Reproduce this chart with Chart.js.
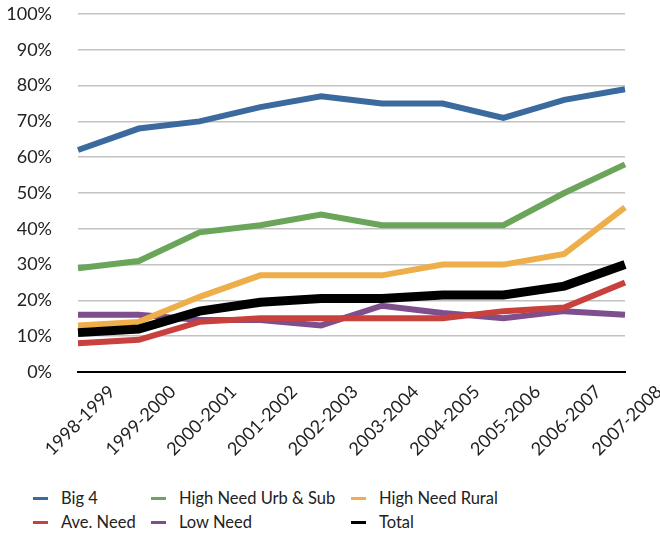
<!DOCTYPE html>
<html>
<head>
<meta charset="utf-8">
<script src="https://cdn.jsdelivr.net/npm/chart.js@4/dist/chart.umd.min.js"></script>
<style>
  body { margin: 0; background: #fff; }
  #wrap { position: relative; width: 660px; height: 536px; font-family: Lato, sans-serif; color: #222; }
  #legend { position: absolute; left: 0; top: 486px; width: 660px; }
  .item { position: absolute; height: 24px; line-height: 24px; font-size: 16.5px; white-space: nowrap; }
  .item .swatch { position: absolute; left: 0; top: 11px; width: 15px; height: 3px; }
  .item .name { position: absolute; left: 28px; top: 0; }
</style>
</head>
<body>
<div id="wrap">
  <canvas id="chart" width="660" height="480"></canvas>
  <div id="legend"></div>
</div>
<script>
const years = ['1998-1999', '1999-2000', '2000-2001', '2001-2002', '2002-2003',
               '2003-2004', '2004-2005', '2005-2006', '2006-2007', '2007-2008'];

const big4       = [62, 68, 70, 74, 77, 75, 75, 71, 76, 79];
const highUrbSub = [29, 31, 39, 41, 44, 41, 41, 41, 50, 58];
const highRural  = [13, 14, 21, 27, 27, 27, 30, 30, 33, 46];
const aveNeed    = [8, 9, 14, 15, 15, 15, 15, 17, 18, 25];
const lowNeed    = [16, 16, 14.5, 14.5, 13, 18.5, 16.5, 15, 17, 16];
const total      = [11, 12, 17, 19.5, 20.5, 20.5, 21.5, 21.5, 24, 30];

const yTicks = [0, 10, 20, 30, 40, 50, 60, 70, 80, 90, 100];

// legend order (row by row), draw order: lower "order" is painted last
const series = [
  { label: 'Big 4',               data: big4,       color: '#3b6a9e', width: 6, order: 4 },
  { label: 'High Need Urb & Sub', data: highUrbSub, color: '#6ba55a', width: 6, order: 3 },
  { label: 'High Need Rural',     data: highRural,  color: '#eeae4a', width: 6, order: 2 },
  { label: 'Ave. Need',           data: aveNeed,    color: '#c9413d', width: 6, order: 1 },
  { label: 'Low Need',            data: lowNeed,    color: '#7f4e8c', width: 6, order: 5 },
  { label: 'Total',               data: total,      color: '#000000', width: 9, order: 0 }
];

const ctx = document.getElementById('chart').getContext('2d');

new Chart(ctx, {
  type: 'line',
  data: {
    labels: years,
    datasets: series.map(s => ({
      label: s.label,
      data: s.data,
      borderColor: s.color,
      backgroundColor: s.color,
      borderWidth: s.width,
      order: s.order,
      pointRadius: 0,
      tension: 0,
      fill: false
    }))
  },
  options: {
    responsive: false,
    animation: false,
    layout: { padding: { top: 14, right: 35, left: 0, bottom: 0 } },
    plugins: {
      legend: { display: false },
      tooltip: { enabled: false }
    },
    scales: {
      x: {
        offset: false,
        grid: { display: false, drawTicks: false },
        border: { display: true, color: '#000', width: 2 },
        ticks: {
          font: { family: 'Lato', size: 18 },
          color: '#222',
          maxRotation: 45,
          minRotation: 45,
          autoSkip: false,
          labelOffset: 34,
          padding: 9
        },
        afterFit: scale => {
          scale.height = 108;
          scale.paddingLeft = 0;
          scale.paddingRight = 0;
        }
      },
      y: {
        min: 0,
        max: 100,
        afterBuildTicks: scale => { scale.ticks = yTicks.map(v => ({ value: v })); },
        grid: { color: '#c2c2c2', lineWidth: 1.5, drawTicks: false },
        border: { display: false },
        ticks: {
          font: { family: 'Lato', size: 18 },
          color: '#222',
          padding: 26,
          callback: v => v + '%'
        },
        afterFit: scale => {
          scale.width = 78;
          scale.paddingTop = 0;
          scale.paddingBottom = 0;
        }
      }
    }
  }
});

// legend: three columns, two rows
const legend = document.getElementById('legend');
const colX = [33, 151, 351];
series.forEach((s, i) => {
  const item = document.createElement('div');
  item.className = 'item';
  item.style.left = colX[i % 3] + 'px';
  item.style.top = (Math.floor(i / 3) * 24) + 'px';
  const sw = document.createElement('span');
  sw.className = 'swatch';
  sw.style.background = s.color;
  const nm = document.createElement('span');
  nm.className = 'name';
  nm.textContent = s.label;
  item.appendChild(sw);
  item.appendChild(nm);
  legend.appendChild(item);
});
</script>
</body>
</html>
